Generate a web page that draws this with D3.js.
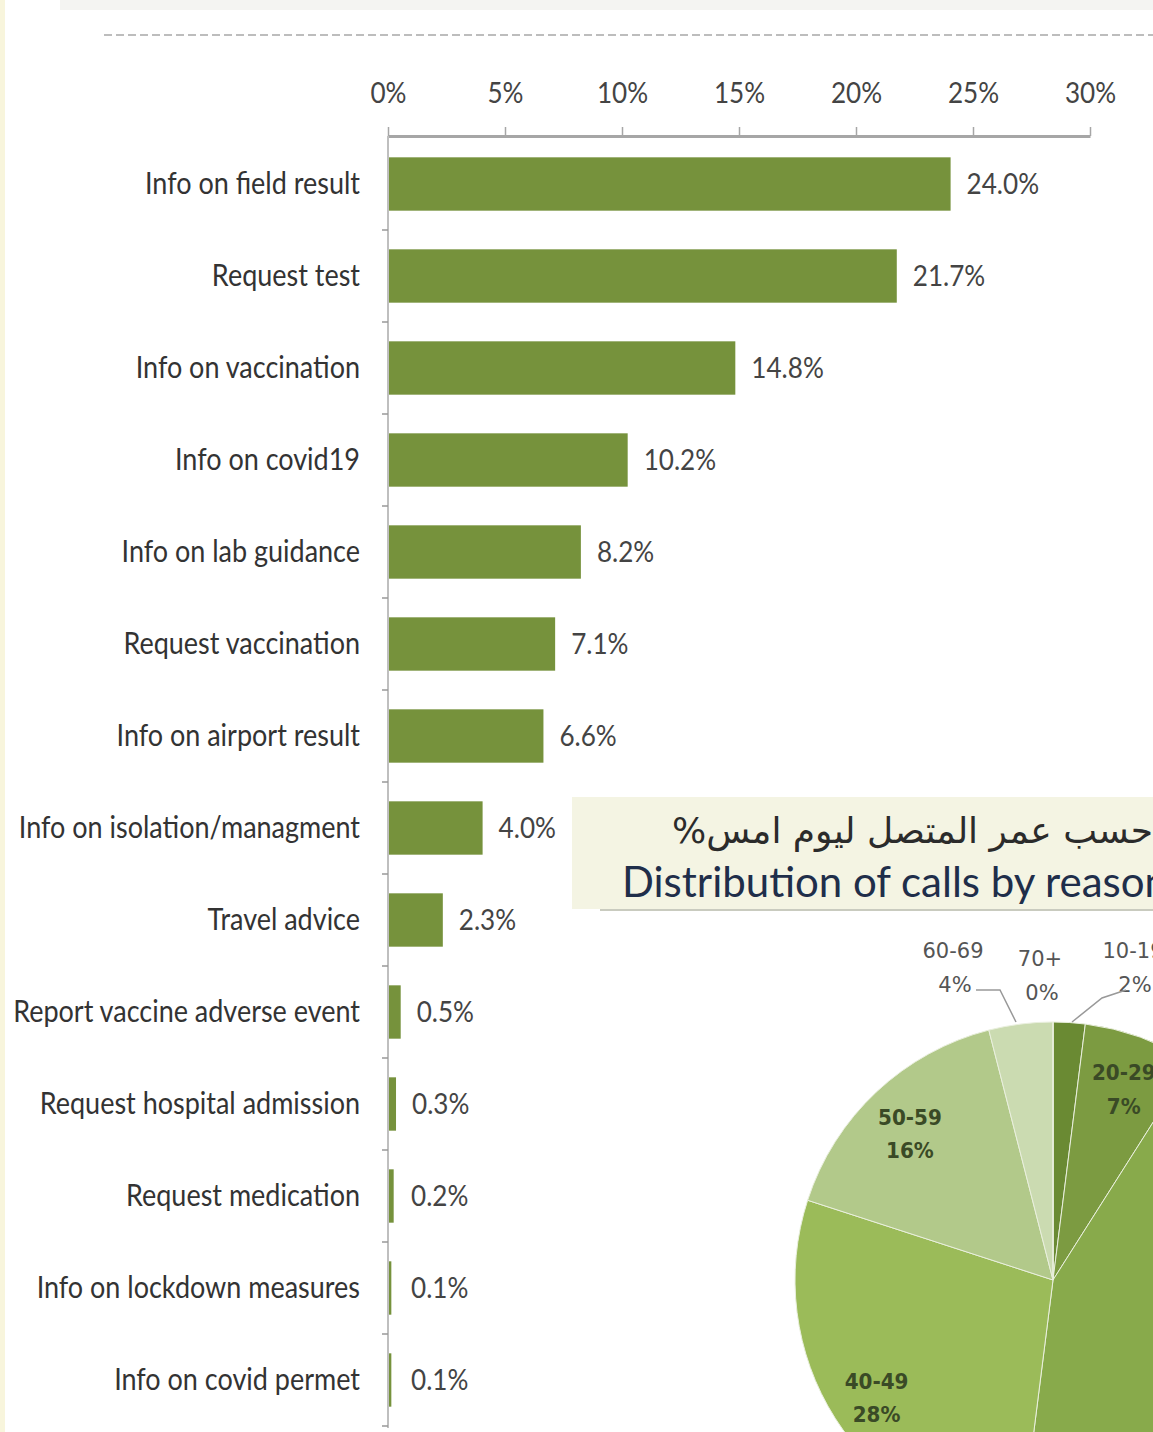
<!DOCTYPE html>
<html><head><meta charset="utf-8">
<script src="https://cdn.jsdelivr.net/npm/d3@7"></script>
<style>
html,body{margin:0;padding:0;background:#fff;}
svg{display:block;}
</style></head>
<body>
<svg id="c" width="1153" height="1432"></svg>
<script>
// ---- data ----
const categories = ["Info on field result","Request test","Info on vaccination","Info on covid19","Info on lab guidance","Request vaccination","Info on airport result","Info on isolation/managment","Travel advice","Report vaccine adverse event","Request hospital admission","Request medication","Info on lockdown measures","Info on covid permet"];
const values = [24.0,21.7,14.8,10.2,8.2,7.1,6.6,4.0,2.3,0.5,0.3,0.2,0.1,0.1];
const xTicks = [0,5,10,15,20,25,30];
const ageGroups = ["10-19","20-29","30-39","40-49","50-59","60-69","70+"];
const ageShares = [2,7,43,28,16,4,0];
const pieTitleAr = "حسب عمر المتصل ليوم امس%";
const pieTitleEn = "Distribution of calls by reason";

const svg = d3.select("#c");
const W = 1153, H = 1432;
const labelFont = "Lato,'Open Sans',sans-serif";
const SX = 0.9; // horizontal condensing of label glyphs

// background accents
svg.append("rect").attr("x",0).attr("y",0).attr("width",5).attr("height",H).attr("fill","#f8f5dc");
svg.append("rect").attr("x",60).attr("y",0).attr("width",W-60).attr("height",10).attr("fill","#f4f4f2");
svg.append("line").attr("x1",104).attr("x2",W).attr("y1",35).attr("y2",35)
  .attr("stroke","#bdbdbd").attr("stroke-width",2).attr("stroke-dasharray","8,4");

// scales
const x = d3.scaleLinear().domain([0,30]).range([388,1090]);
const y = d3.scaleBand().domain(categories).range([138,1426]).paddingInner(0.42).paddingOuter(0.21);

// top axis
const ax = svg.append("g").attr("transform","translate(0,136)")
  .call(d3.axisTop(x).tickValues(xTicks).tickFormat(d=>d+"%").tickSize(9).tickPadding(24).tickSizeOuter(0));
ax.select(".domain").attr("stroke","#a6a6a6").attr("stroke-width",3);
ax.selectAll(".tick line").attr("stroke","#a6a6a6").attr("stroke-width",1.5);
ax.selectAll(".tick text").attr("font-family",labelFont).attr("font-size",29).attr("fill","#444")
  .attr("transform",`scale(${SX},1)`);

// left axis line + boundary ticks
svg.append("line").attr("x1",388).attr("x2",388).attr("y1",136).attr("y2",1428).attr("stroke","#bfbfbf").attr("stroke-width",2);
const bounds = categories.map(c=>y(c)-y.step()*y.paddingInner()/2);
bounds.push(y(categories[categories.length-1])+y.bandwidth()+y.step()*y.paddingInner()/2);
svg.selectAll(".yt").data(bounds.slice(1)).enter().append("line")
  .attr("x1",382).attr("x2",388).attr("y1",d=>d).attr("y2",d=>d)
  .attr("stroke","#999").attr("stroke-width",1.5);

// bars
svg.selectAll(".bar").data(values).enter().append("rect")
  .attr("x",x(0)+1).attr("y",(d,i)=>y(categories[i]))
  .attr("width",d=>Math.max(1.5,x(d)-x(0)))
  .attr("height",y.bandwidth()).attr("fill","#76923c");

// category labels
svg.selectAll(".cat").data(categories).enter().append("text")
  .attr("transform",d=>`translate(360,${y(d)+y.bandwidth()/2+10}) scale(${SX},1)`)
  .attr("text-anchor","end").attr("font-family",labelFont).attr("font-size",30)
  .attr("fill","#333").text(d=>d);

// value labels
svg.selectAll(".val").data(values).enter().append("text")
  .attr("transform",(d,i)=>`translate(${Math.max(x(d),x(0)+6)+17},${y(categories[i])+y.bandwidth()/2+10}) scale(${SX},1)`)
  .attr("font-family",labelFont).attr("font-size",29).attr("fill","#444")
  .text(d=>d.toFixed(1)+"%");

// ---- pie overlay ----
svg.append("rect").attr("x",572).attr("y",797).attr("width",W-572).attr("height",112).attr("fill","#f4f4e3");
svg.append("line").attr("x1",600).attr("x2",W).attr("y1",910).attr("y2",910).attr("stroke","#c9cbbf").attr("stroke-width",2);
svg.append("text").attr("x",672).attr("y",843).attr("direction","rtl").attr("text-anchor","end")
  .attr("font-family","'DejaVu Sans',sans-serif").attr("font-size",36).attr("fill","#2b2b2b").text(pieTitleAr);
svg.append("text").attr("x",622).attr("y",897)
  .attr("font-family","Lato,'Open Sans',sans-serif").attr("font-size",42).attr("fill","#1f2e4a").text(pieTitleEn);

const cx = 1053, cy = 1280, R = 258;
const pieColors = ["#6a8a33","#7c9b41","#88aa4b","#9bbb59","#b2c98a","#cbdbb1","#dce7ca"];
const pie = d3.pie().sort(null).value(d=>d)(ageShares);
const arc = d3.arc().innerRadius(0).outerRadius(R);
const pg = svg.append("g").attr("transform",`translate(${cx},${cy})`);
pg.selectAll("path").data(pie).enter().append("path")
  .attr("d",arc).attr("fill",(d,i)=>pieColors[i]).attr("stroke","#e9efdd").attr("stroke-width",1);

// inner labels (the 30-39 label lies outside the visible crop)
const inner = d3.arc().innerRadius(R*0.81).outerRadius(R*0.81);
const innerIdx = [1,3,4];
pg.selectAll(".pl").data(pie.filter((d,i)=>innerIdx.includes(i))).enter().append("text")
  .attr("transform",d=>{const c=inner.centroid(d);return `translate(${c[0]},${c[1]}) scale(0.95,1)`;})
  .attr("text-anchor","middle").attr("font-family","'DejaVu Sans',sans-serif").attr("font-weight","bold")
  .attr("font-size",21).attr("fill","#3a4a26")
  .each(function(d){
    const i = pie.indexOf(d);
    const t = d3.select(this);
    t.append("tspan").attr("x",0).attr("dy","-0.15em").text(ageGroups[i]);
    t.append("tspan").attr("x",0).attr("dy","1.6em").text(ageShares[i]+"%");
  });

// outer labels with leader lines
const outer = [
  {i:5, lx:953, ly:958, line:[[976,990],[1000,990],[1016,1022]]},
  {i:6, lx:1040, ly:966, line:null},
  {i:0, lx:1133, ly:958, line:[[1126,990],[1102,998],[1072,1022]]}
];
outer.forEach(o=>{
  const t = svg.append("text").attr("text-anchor","middle").attr("font-family","'DejaVu Sans',sans-serif")
    .attr("font-size",21).attr("fill","#555");
  t.append("tspan").attr("x",o.lx).attr("y",o.ly).text(ageGroups[o.i]);
  t.append("tspan").attr("x",o.lx+2).attr("y",o.ly+34).text(ageShares[o.i]+"%");
  if(o.line) svg.append("path").attr("d",d3.line()(o.line)).attr("fill","none").attr("stroke","#999").attr("stroke-width",1.5);
});
</script>
</body></html>
